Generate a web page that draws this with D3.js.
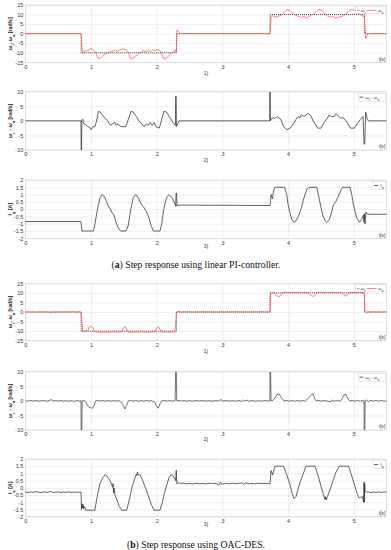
<!DOCTYPE html>
<html><head><meta charset="utf-8">
<script src="https://cdn.jsdelivr.net/npm/d3@7"></script>
<style>body{margin:0;background:#fff}text{font-family:"Liberation Sans",Arial,sans-serif}text.cap{font-family:"Liberation Serif","Times New Roman",serif}</style>
</head><body><svg id="c" width="391" height="550"></svg>
<script>
// ---------- tick labels ----------
const xTicks=[0,1,2,3,4,5];
const speedTicks=[15,10,5,0,-5,-10,-15];
const errTicks=[10,5,0,-5,-10];
const curTicks=[2,1.5,1,0.5,0,-0.5,-1,-1.5,-2];

// ---------- reference speed (both controllers) ----------
const refSpeed=[[0,0],[0.85,0],[0.85,-10],[2.3,-10],[2.3,0],[3.725,0],[3.725,10],[5.16,10],[5.16,0],[5.5,0]];

// ---------- (a) linear PI ----------
const piSpeed=[[0,0],[0.85,0],[0.868,-10.5],[0.89,-9.2],[0.93,-9],[0.97,-8.5],[1.0,-7.5],[1.03,-8.5],[1.06,-9.5],[1.085,-11],[1.112,-13.3],[1.15,-12.5],[1.2,-11],[1.25,-10],[1.3,-9.5],[1.34,-9],[1.37,-8.5],[1.4,-9.3],[1.43,-8.6],[1.47,-8.2],[1.5,-8],[1.54,-8.5],[1.57,-10],[1.59,-12],[1.61,-13.4],[1.66,-12.3],[1.72,-10.7],[1.77,-9.5],[1.8,-9],[1.84,-9.5],[1.88,-8.6],[1.91,-9.4],[1.94,-8.5],[1.98,-8.8],[2.02,-8.3],[2.05,-9],[2.08,-11],[2.11,-13.4],[2.16,-12.5],[2.21,-10.5],[2.26,-9.2],[2.285,-8.8],[2.297,-10],[2.31,2],[2.33,1],[2.36,0],[3.725,0],[3.74,9],[3.76,9.5],[3.8,8.6],[3.84,9],[3.88,9.5],[3.92,10.2],[3.98,12.6],[4.03,12],[4.08,10.5],[4.12,9.5],[4.16,9],[4.2,8.5],[4.24,9],[4.28,8.2],[4.32,9],[4.36,9.8],[4.41,11],[4.46,12.6],[4.51,12.4],[4.55,10.8],[4.6,9.2],[4.64,8.6],[4.68,9],[4.72,8.1],[4.77,8.6],[4.82,9],[4.87,10],[4.95,12.6],[5.01,12.4],[5.06,11],[5.1,10],[5.14,9],[5.16,9.5],[5.18,-2.5],[5.2,-1],[5.23,0],[5.5,0]];
const piError=[[0,0],[0.848,0],[0.85,-10],[0.856,-10],[0.86,0.3],[0.875,0.6],[0.89,-1],[0.92,-1.3],[0.95,-2],[0.98,-2.2],[1.0,-3],[1.03,-2],[1.06,-2],[1.085,0],[1.112,3.3],[1.14,3],[1.17,2],[1.21,1],[1.25,0],[1.28,-1],[1.3,-1.5],[1.33,-1],[1.36,-0.5],[1.38,-1.5],[1.41,-1],[1.44,-1.8],[1.48,-2],[1.53,-2],[1.56,0],[1.61,3.3],[1.64,3],[1.69,1.5],[1.73,0],[1.77,-1],[1.81,-2],[1.84,-1],[1.87,-1.6],[1.9,-0.5],[1.93,-1.5],[1.96,-0.6],[1.99,-2],[2.04,-2.5],[2.07,0],[2.11,3.3],[2.15,3],[2.19,1.5],[2.23,0],[2.26,-1],[2.285,-1.5],[2.289,8.5],[2.295,8.5],[2.3,-2],[2.32,-1],[2.34,0],[3.72,0],[3.722,10],[3.727,10],[3.73,0],[3.75,0.8],[3.78,1],[3.8,0.8],[3.83,1.5],[3.86,1],[3.89,0.5],[3.93,-2],[3.98,-3],[4.03,-2.5],[4.08,-1],[4.12,0.5],[4.15,1.5],[4.18,1],[4.2,2],[4.24,1.5],[4.27,2],[4.3,2.5],[4.34,2],[4.38,0],[4.45,-2.5],[4.5,-2.5],[4.55,-0.5],[4.6,1],[4.62,2],[4.66,1.5],[4.7,1.5],[4.73,2.5],[4.77,1.5],[4.8,1],[4.84,1],[4.88,0],[4.95,-2.5],[5.01,-2.5],[5.05,-1],[5.1,0.5],[5.14,1.5],[5.155,-8],[5.165,-8],[5.18,3],[5.2,1],[5.22,0],[5.5,0]];
const piCurrent=[[0,-0.85],[0.848,-0.85],[0.862,-1.5],[1.036,-1.5],[1.061,-1.0],[1.086,-0.3],[1.112,0.3],[1.137,0.8],[1.172,1.0],[1.203,0.85],[1.238,0.5],[1.264,0.2],[1.289,0.05],[1.315,-0.2],[1.35,-0.4],[1.38,-0.9],[1.416,-1.3],[1.451,-1.5],[1.533,-1.5],[1.568,-1.1],[1.594,-0.3],[1.619,0.3],[1.645,0.8],[1.68,1.0],[1.72,0.8],[1.746,0.5],[1.771,0.3],[1.807,0.1],[1.847,-0.2],[1.883,-0.6],[1.913,-1.1],[1.949,-1.5],[2.05,-1.5],[2.076,-1.0],[2.101,-0.2],[2.126,0.4],[2.152,0.8],[2.187,1.0],[2.228,0.8],[2.264,0.5],[2.289,0.2],[2.295,1.1],[2.302,1.1],[2.309,0.2],[2.324,0.28],[3.725,0.25],[3.74,1.0],[3.76,0.7],[3.78,1.3],[3.8,1.5],[3.945,1.5],[3.978,1.0],[4.0,0.3],[4.03,-0.3],[4.055,-0.7],[4.09,-0.9],[4.12,-0.8],[4.155,-0.5],[4.195,0],[4.23,0.6],[4.257,1.0],[4.29,1.4],[4.32,1.5],[4.435,1.5],[4.46,1.0],[4.496,0.2],[4.526,-0.4],[4.562,-0.8],[4.587,-0.9],[4.628,-0.7],[4.663,-0.2],[4.688,0.3],[4.724,0.5],[4.765,0.9],[4.8,1.3],[4.83,1.5],[4.942,1.5],[4.968,1.0],[4.993,0.3],[5.02,-0.2],[5.044,-0.6],[5.085,-0.9],[5.12,-0.7],[5.145,-0.4],[5.155,-0.9],[5.16,-0.3],[5.17,-1.0],[5.185,-0.2],[5.21,-0.35],[5.5,-0.35]];

// ---------- (b) OAC-DES ----------
const desSpeed=[[0,0],[0.04,0.1],[0.08,-0.1],[0.12,0.05],[0.16,-0.15],[0.2,0.1],[0.24,0],[0.28,-0.1],[0.32,0.1],[0.36,-0.05],[0.4,-0.4],[0.42,0.1],[0.46,-0.1],[0.5,0.05],[0.54,-0.1],[0.58,0.1],[0.62,-0.05],[0.66,0.1],[0.7,-0.1],[0.72,0.4],[0.74,0],[0.78,-0.1],[0.82,0.05],[0.848,0],[0.873,-10],[0.9,-10.3],[0.93,-10],[0.95,-9.5],[0.97,-8],[0.995,-7.5],[1.025,-8],[1.05,-10],[1.086,-10.5],[1.13,-10.4],[1.18,-10.6],[1.23,-10.4],[1.28,-10.5],[1.33,-10.3],[1.38,-10.5],[1.43,-10.4],[1.467,-10.3],[1.49,-8.5],[1.517,-7.5],[1.543,-9],[1.568,-10.5],[1.62,-10.6],[1.67,-10.4],[1.72,-10.5],[1.77,-10.3],[1.82,-10.5],[1.87,-10.4],[1.93,-10.5],[1.974,-10.3],[2.0,-8.5],[2.025,-7.8],[2.05,-9],[2.076,-10.5],[2.13,-10.4],[2.18,-10.6],[2.23,-10.4],[2.279,-10.5],[2.3,0],[2.34,0.2],[2.38,-0.1],[2.42,0.1],[2.46,-0.05],[2.5,0.1],[2.55,-0.1],[2.6,0.05],[2.65,-0.1],[2.7,0.1],[2.75,-0.05],[2.8,0.1],[2.85,-0.1],[2.9,0.05],[2.95,-0.2],[2.98,0.2],[3.02,-0.1],[3.06,0.05],[3.1,-0.1],[3.15,0.1],[3.2,-0.05],[3.25,0.1],[3.3,-0.1],[3.33,0.2],[3.36,-0.1],[3.4,0.05],[3.45,-0.1],[3.5,0.1],[3.55,-0.05],[3.6,0.1],[3.65,-0.1],[3.7,0.05],[3.725,0],[3.735,10],[3.77,10.2],[3.8,9.5],[3.825,8.5],[3.85,8],[3.887,8.5],[3.915,10],[3.95,10.3],[4.0,10.1],[4.05,10.3],[4.1,10.2],[4.15,10.3],[4.2,10.1],[4.25,10.3],[4.308,10],[4.343,9],[4.384,8],[4.42,9.5],[4.45,10.2],[4.5,10.3],[4.55,10.1],[4.6,10.3],[4.65,10.2],[4.7,10.3],[4.75,10.1],[4.8,10.2],[4.84,9.5],[4.866,8.2],[4.9,9],[4.93,10.2],[4.98,10.3],[5.03,10.1],[5.08,10.3],[5.13,10.2],[5.16,10],[5.17,0],[5.19,-0.5],[5.22,0.1],[5.26,-0.1],[5.3,0.1],[5.34,-0.1],[5.38,0.05],[5.42,-0.1],[5.46,0.1],[5.5,0]];
const desError=[[0,0],[0.04,-0.1],[0.08,0.1],[0.12,-0.05],[0.16,0.1],[0.2,-0.1],[0.24,0.05],[0.28,0.1],[0.32,-0.1],[0.36,0.05],[0.4,0.5],[0.42,-0.1],[0.46,0.1],[0.5,-0.05],[0.54,0.1],[0.58,-0.1],[0.62,0.05],[0.66,-0.1],[0.7,0.1],[0.74,-0.2],[0.78,0.1],[0.82,-0.05],[0.848,0],[0.85,-10],[0.86,-10],[0.865,0],[0.9,0.1],[0.925,-0.5],[0.945,-1.5],[0.975,-2.3],[1.025,-2.5],[1.05,-1.5],[1.07,0],[1.1,0.2],[1.14,-0.1],[1.18,0.1],[1.22,-0.1],[1.26,0.1],[1.3,-0.1],[1.34,0.1],[1.38,-0.1],[1.42,0.1],[1.452,-0.3],[1.482,-1.2],[1.517,-2.8],[1.543,-1.5],[1.568,0],[1.6,0.1],[1.64,-0.1],[1.68,0.1],[1.72,-0.1],[1.76,0.1],[1.8,-0.1],[1.84,0.1],[1.88,-0.1],[1.92,0.1],[1.974,-0.5],[2.0,-2],[2.025,-2.5],[2.05,-1],[2.076,0],[2.12,0.1],[2.16,-0.1],[2.2,0.1],[2.24,-0.1],[2.28,0.1],[2.289,10],[2.298,10],[2.305,0],[2.34,0.1],[2.38,-0.1],[2.42,0.1],[2.46,-0.1],[2.5,0.05],[2.55,-0.1],[2.6,0.1],[2.65,-0.05],[2.7,0.1],[2.75,-0.1],[2.8,0.05],[2.85,-0.1],[2.9,0.1],[2.95,-0.05],[2.98,0.5],[3.0,-0.1],[3.05,0.1],[3.1,-0.1],[3.15,0.05],[3.2,-0.1],[3.25,0.1],[3.3,-0.2],[3.32,0.3],[3.35,-0.1],[3.38,0.3],[3.4,-0.2],[3.45,0.1],[3.5,-0.1],[3.55,0.05],[3.6,-0.1],[3.65,0.1],[3.7,-0.05],[3.722,0],[3.724,10],[3.733,10],[3.74,0],[3.77,0.2],[3.8,1],[3.835,2.3],[3.866,2.3],[3.9,1],[3.937,0],[3.98,0.1],[4.02,-0.1],[4.06,0.1],[4.1,-0.1],[4.14,0.1],[4.18,-0.1],[4.22,0.1],[4.26,-0.1],[4.283,0.3],[4.333,1.5],[4.374,2.5],[4.41,0.5],[4.425,0],[4.46,0.1],[4.5,-0.1],[4.55,0.1],[4.6,-0.1],[4.65,-0.3],[4.67,0.3],[4.7,-0.1],[4.75,0.1],[4.79,-0.1],[4.815,0.5],[4.85,2],[4.88,2.2],[4.92,0.3],[4.94,0],[4.98,0.1],[5.02,-0.1],[5.06,0.1],[5.1,-0.1],[5.14,0.1],[5.155,0],[5.158,-10],[5.166,-10],[5.172,0],[5.19,0.3],[5.22,-0.2],[5.26,0.2],[5.3,-0.1],[5.34,0.2],[5.38,-0.1],[5.42,0.1],[5.46,-0.1],[5.5,0]];
const desCurrent=[[0,-0.3],[0.04,-0.32],[0.08,-0.28],[0.12,-0.31],[0.16,-0.27],[0.2,-0.3],[0.24,-0.33],[0.28,-0.28],[0.32,-0.31],[0.36,-0.29],[0.4,-0.25],[0.42,-0.33],[0.46,-0.3],[0.5,-0.28],[0.54,-0.32],[0.58,-0.29],[0.62,-0.31],[0.66,-0.28],[0.7,-0.32],[0.74,-0.29],[0.78,-0.31],[0.82,-0.3],[0.848,-0.3],[0.855,-1.5],[0.862,-1.1],[0.87,-1.4],[0.88,-1.15],[0.89,-1.45],[0.9,-1.3],[0.92,-1.55],[1.06,-1.55],[1.086,-0.8],[1.112,-0.2],[1.137,0.3],[1.178,0.7],[1.213,0.9],[1.248,0.8],[1.289,0.5],[1.315,0.2],[1.33,0.05],[1.335,0.3],[1.34,-0.1],[1.345,-0.35],[1.35,0],[1.365,-0.5],[1.4,-0.9],[1.431,-1.3],[1.467,-1.55],[1.543,-1.55],[1.568,-1.1],[1.604,-0.4],[1.634,0.2],[1.67,0.7],[1.69,0.95],[1.7,0.85],[1.705,1.1],[1.715,0.95],[1.746,0.9],[1.78,0.6],[1.81,0.2],[1.847,-0.2],[1.883,-0.7],[1.923,-1.2],[1.958,-1.55],[2.05,-1.55],[2.086,-1.0],[2.116,-0.4],[2.152,0.2],[2.187,0.7],[2.218,0.9],[2.254,0.8],[2.289,0.5],[2.295,1.2],[2.3,1.2],[2.305,0.3],[2.33,0.35],[2.37,0.3],[2.41,0.33],[2.45,0.28],[2.5,0.31],[2.55,0.27],[2.6,0.32],[2.65,0.29],[2.7,0.31],[2.75,0.27],[2.8,0.32],[2.85,0.29],[2.9,0.31],[2.95,0.2],[2.97,0.4],[2.99,0.25],[3.05,0.31],[3.1,0.28],[3.15,0.32],[3.2,0.29],[3.25,0.31],[3.3,0.35],[3.32,0.25],[3.35,0.33],[3.4,0.29],[3.45,0.31],[3.5,0.28],[3.55,0.32],[3.6,0.29],[3.65,0.31],[3.7,0.29],[3.725,0.3],[3.74,1.2],[3.765,0.9],[3.8,1.5],[3.93,1.5],[3.98,0.9],[4.03,0.2],[4.06,-0.4],[4.09,-0.75],[4.12,-0.6],[4.15,-0.1],[4.19,0.5],[4.24,1.1],[4.27,1.5],[4.41,1.5],[4.46,0.8],[4.5,0.1],[4.54,-0.5],[4.56,-0.8],[4.57,-0.6],[4.58,-0.85],[4.6,-0.6],[4.64,-0.1],[4.69,0.6],[4.73,1.1],[4.78,1.5],[4.92,1.5],[4.97,0.8],[5.01,0.2],[5.05,-0.4],[5.08,-0.7],[5.13,-0.6],[5.15,-1.0],[5.155,0.4],[5.16,-1.0],[5.165,0.3],[5.17,-0.2],[5.19,-0.3],[5.22,-0.28],[5.26,-0.33],[5.3,-0.29],[5.34,-0.32],[5.38,-0.28],[5.42,-0.31],[5.46,-0.29],[5.5,-0.3]];

// ---------- layout ----------
const svg=d3.select("#c");
const L=25.3,R=386.7;
const x=d3.scaleLinear().domain([0,5.5]).range([L,R]);
const RED="#ff5a5a", DARK="#3a3a3a";

function sub(t,base,s){
  t.append("tspan").text(base);
  t.append("tspan").attr("baseline-shift","sub").attr("font-size","75%").text(s);
}

const panels=[
 {top:5,bottom:62.3,dom:[-15,15],ticks:speedTicks,num:"1)",numY:74.5,label:"speed",
  series:[{d:refSpeed,c:"#333",w:0.9,dash:"1,1"},{d:piSpeed,c:RED,w:0.8}],leg:"speed"},
 {top:91.7,bottom:150,dom:[-10,10],ticks:errTicks,num:"2)",numY:161.5,label:"err",
  series:[{d:piError,c:DARK,w:0.8}],leg:"err"},
 {top:180,bottom:238.3,dom:[-2,2],ticks:curTicks,num:"3)",numY:247.5,label:"cur",
  series:[{d:piCurrent,c:DARK,w:0.8}],leg:"cur"},
 {top:283.3,bottom:340.7,dom:[-15,15],ticks:speedTicks,num:"1)",numY:353,label:"speed",
  series:[{d:refSpeed,c:"#333",w:0.9,dash:"1,1"},{d:desSpeed,c:RED,w:0.8}],leg:"speed"},
 {top:371.7,bottom:430,dom:[-10,10],ticks:errTicks,num:"2)",numY:441,label:"err",
  series:[{d:desError,c:DARK,w:0.7}],leg:"err"},
 {top:459,bottom:516.7,dom:[-2,2],ticks:curTicks,num:"3)",numY:526,label:"cur",
  series:[{d:desCurrent,c:"#222",w:0.7}],leg:"cur"}
];

panels.forEach((p,i)=>{
  const y=d3.scaleLinear().domain(p.dom).range([p.bottom,p.top]);
  const g=svg.append("g");
  g.append("g").attr("transform",`translate(0,${p.bottom})`)
    .call(d3.axisBottom(x).tickValues(xTicks).tickSize(-(p.bottom-p.top)).tickFormat(""))
    .call(a=>{a.select(".domain").remove();a.selectAll("line").attr("stroke","#e4e4e4").attr("stroke-width",0.6);});
  g.append("g").attr("transform",`translate(${L},0)`)
    .call(d3.axisLeft(y).tickValues(p.ticks).tickSize(-(R-L)).tickFormat(""))
    .call(a=>{a.select(".domain").remove();a.selectAll("line").attr("stroke","#e4e4e4").attr("stroke-width",0.6);});
  g.append("g").attr("transform",`translate(0,${p.bottom})`)
    .call(d3.axisBottom(x).tickValues(xTicks).tickSize(0).tickPadding(2.5).tickFormat(d=>String(d)))
    .call(a=>{a.select(".domain").remove();a.selectAll("text").attr("font-size",5.5).attr("fill","#333");});
  g.append("g").attr("transform",`translate(${L},0)`)
    .call(d3.axisLeft(y).tickValues(p.ticks).tickSize(0).tickPadding(2).tickFormat(d=>String(d)))
    .call(a=>{a.select(".domain").remove();a.selectAll("text").attr("font-size",5.5).attr("fill","#333");});
  g.append("rect").attr("x",L).attr("y",p.top).attr("width",R-L).attr("height",p.bottom-p.top)
    .attr("fill","none").attr("stroke","#d0d0d0").attr("stroke-width",0.6);
  const cid="clip"+i;
  svg.append("clipPath").attr("id",cid).append("rect").attr("x",L).attr("y",p.top).attr("width",R-L).attr("height",p.bottom-p.top);
  const line=d3.line().x(d=>x(d[0])).y(d=>y(d[1]));
  p.series.forEach(s=>{
    g.append("path").attr("clip-path",`url(#${cid})`).attr("d",line(s.d)).attr("fill","none")
      .attr("stroke",s.c).attr("stroke-width",s.w).attr("stroke-dasharray",s.dash||null).attr("stroke-linejoin","round");
  });
  const yl=g.append("text").attr("transform",`translate(11.5,${(p.top+p.bottom)/2}) rotate(-90)`)
    .attr("text-anchor","middle").attr("font-size",5.2).attr("font-weight","bold").attr("fill","#222");
  if(p.label==="speed"){sub(yl,"ω","r");yl.append("tspan").text(", ");sub(yl,"ω","a");yl.append("tspan").text(" [rad/s]");}
  else if(p.label==="err"){sub(yl,"ω","r");yl.append("tspan").text(" - ");sub(yl,"ω","a");yl.append("tspan").text(" [rad/s]");}
  else {sub(yl,"I","q");yl.append("tspan").text(" [A]");}
  g.append("text").attr("x",R-1.5).attr("y",p.bottom-1.8).attr("text-anchor","end").attr("font-size",4.6).attr("fill","#333").text("t[s]");
  g.append("text").attr("x",206).attr("y",p.numY).attr("text-anchor","middle").attr("font-size",5).attr("fill","#333").text(p.num);
  const ly=p.top+1.5;
  if(p.leg==="speed"){
    g.append("rect").attr("x",355.7).attr("y",ly).attr("width",R-355.7-0.8).attr("height",7).attr("fill","#fff").attr("stroke","#ccc").attr("stroke-width",0.4);
    g.append("line").attr("x1",357).attr("x2",360).attr("y1",ly+3.8).attr("y2",ly+3.8).attr("stroke","#333").attr("stroke-width",0.8).attr("stroke-dasharray","0.8,0.8");
    const t1=g.append("text").attr("x",361).attr("y",ly+5).attr("font-size",4.4).attr("fill","#333");sub(t1,"ω","r");
    g.append("line").attr("x1",366.5).attr("x2",376.5).attr("y1",ly+3.8).attr("y2",ly+3.8).attr("stroke",RED).attr("stroke-width",0.8);
    const t2=g.append("text").attr("x",378).attr("y",ly+5).attr("font-size",4.4).attr("fill","#333");sub(t2,"ω","a");
  } else if(p.leg==="err"){
    g.append("rect").attr("x",358.3).attr("y",ly).attr("width",R-358.3-0.8).attr("height",8).attr("fill","#fff").attr("stroke","#ccc").attr("stroke-width",0.4);
    g.append("line").attr("x1",359.5).attr("x2",363.5).attr("y1",ly+4).attr("y2",ly+4).attr("stroke",DARK).attr("stroke-width",0.8);
    const t1=g.append("text").attr("x",365.5).attr("y",ly+5.3).attr("font-size",4.4).attr("fill","#333");
    sub(t1,"ω","r");t1.append("tspan").text(" - ");sub(t1,"ω","a");
  } else {
    g.append("rect").attr("x",372.7).attr("y",ly).attr("width",R-372.7-0.8).attr("height",8).attr("fill","#fff").attr("stroke","#ccc").attr("stroke-width",0.4);
    g.append("line").attr("x1",374).attr("x2",378).attr("y1",ly+4).attr("y2",ly+4).attr("stroke",DARK).attr("stroke-width",0.8);
    const t1=g.append("text").attr("x",380.5).attr("y",ly+5.3).attr("font-size",4.4).attr("fill","#333");sub(t1,"I","q");
  }
});

function caption(yy,letter,rest){
  const t=svg.append("text").attr("class","cap").attr("x",196).attr("y",yy).attr("text-anchor","middle")
    .attr("font-size",9.7).attr("fill","#111");
  t.append("tspan").text("(");
  t.append("tspan").attr("font-weight","bold").text(letter);
  t.append("tspan").text(") "+rest);
}
caption(267.5,"a","Step response using linear PI-controller.");
caption(547.5,"b","Step response using OAC-DES.");
</script></body></html>
